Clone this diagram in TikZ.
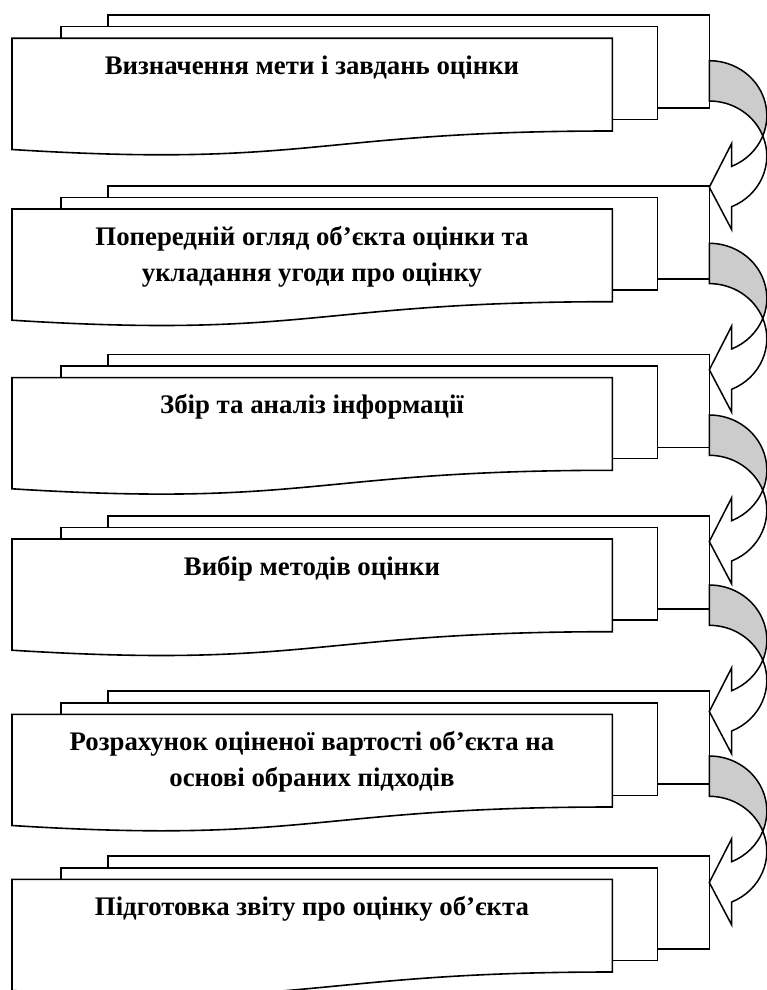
\documentclass[tikz,border=0pt]{standalone}
\usepackage{fontspec}
\setmainfont{Liberation Serif}

\tikzset{
  sheet/.style={draw=black, fill=white, line width=1.6pt},
  bendarrow/.style={draw=black, line width=1.5pt},
  stagetext/.style={font=\fontsize{26.8}{36}\selectfont\bfseries, align=center, inner sep=0pt, anchor=base}
}

\begin{document}
\begin{tikzpicture}[x=1pt, y=-1pt]

  % Page frame
  \useasboundingbox (0,0) rectangle (766,990);

  % Stages: three stacked sheets, the front one with a wavy bottom
  % (\yb = baseline of the last text line)
  \foreach \ty/\yb/\name/\txt in {
      15/74.3/stage1/{Визначення мети і завдань оцінки},
      185.7/281/stage2/{Попередній огляд об’єкта оцінки та\\укладання угоди про оцінку},
      354.3/413.6/stage3/{Збір та аналіз інформації},
      515.7/575/stage4/{Вибір методів оцінки},
      691/786.3/stage5/{Розрахунок оціненої вартості об’єкта на\\основі обраних підходів},
      856/915.3/stage6/{Підготовка звіту про оцінку об’єкта}}{
    \draw[sheet] (107.7,\ty) rectangle (709.3,\ty+93);
    \draw[sheet] (61,\ty+11.7) rectangle (657.3,\ty+104.3);
    \draw[sheet] (12,\ty+23.3) -- (612.3,\ty+23.3) -- (612.3,\ty+116)
      .. controls (312,\ty+116) and (312,\ty+153.3) .. (12,\ty+134.5) -- cycle;
    \node[stagetext] (\name) at (312,\yb) {\txt};
  }

  % Curved arrows from one stage to the next
  \foreach \ya in {60.7,243.3,415,585,756}{
    % shaded back of the band
    \draw[bendarrow, fill=gray!40] (709.3,\ya)
      arc[start angle=-90, end angle=21.5, x radius=57.5, y radius=55]
      arc[start angle=-21.5, end angle=-90, x radius=57.5, y radius=55] -- cycle;
    % front of the band and the head
    \draw[bendarrow, fill=white] (762.8,\ya+75.16)
      arc[start angle=-21.5, end angle=67.07, x radius=57.5, y radius=55]
      -- (731.7,\ya+169) -- (709.3,\ya+126.5) -- (731.7,\ya+82.65)
      -- (731.7,\ya+105.65)
      arc[start angle=67.07, end angle=21.5, x radius=57.5, y radius=55] -- cycle;
  }

\end{tikzpicture}
\end{document}
